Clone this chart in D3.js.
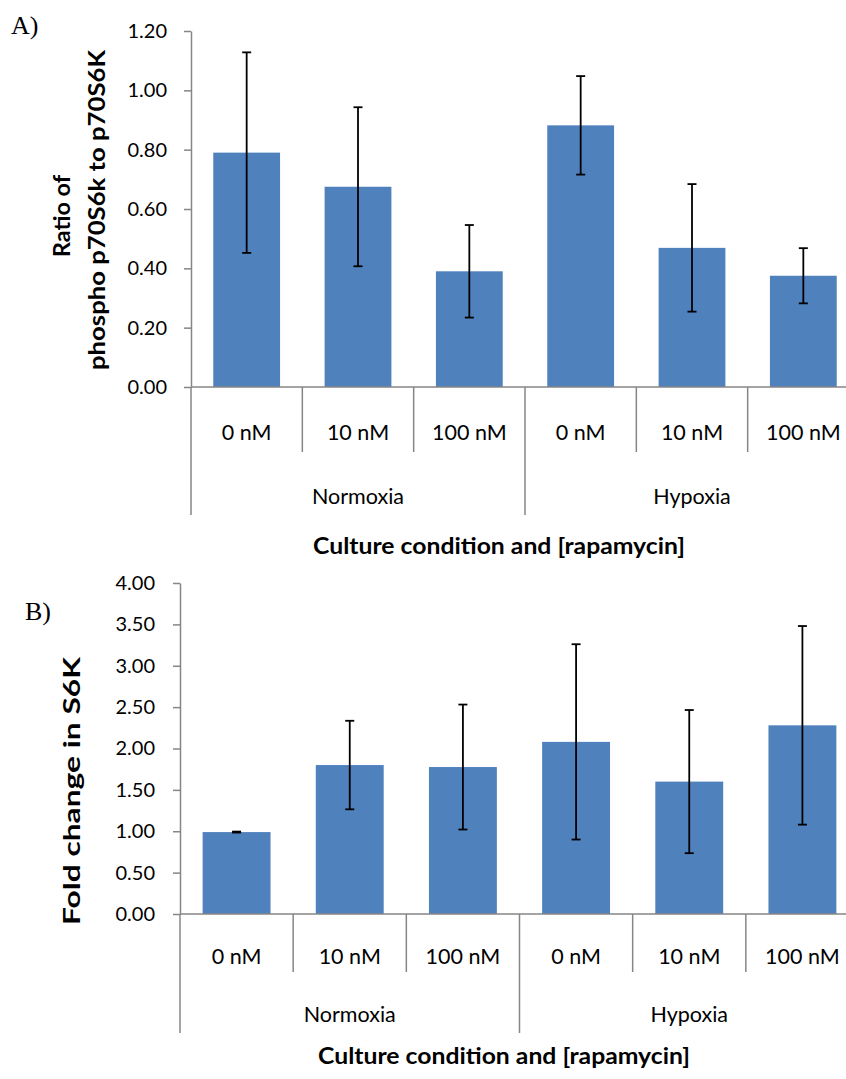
<!DOCTYPE html>
<html>
<head>
<meta charset="utf-8">
<script src="https://cdn.jsdelivr.net/npm/d3@7"></script>
<style>
    body { margin: 0; background: #fff; }
    svg { display: block; font-family: Lato, "Open Sans", sans-serif; }
    .axis path, .axis line { stroke: #868686; stroke-width: 1.5; }
    .axis text { font-size: 20px; fill: #000; font-family: Lato, sans-serif; }
</style>
</head>
<body>
<script>
"use strict";

// categories
var conditions = ["Normoxia", "Hypoxia"];
var doses = ["0 nM", "10 nM", "100 nM"];

// panel A: ratio of phospho p70S6k to p70S6K
var ratioMeans = [0.79, 0.675, 0.39, 0.882, 0.469, 0.375];
var ratioErr = [0.338, 0.268, 0.156, 0.166, 0.215, 0.093];
var ratioTicks = [0, 0.2, 0.4, 0.6, 0.8, 1.0, 1.2];

// panel B: fold change in S6K
var foldMeans = [0.99, 1.80, 1.776, 2.08, 1.60, 2.28];
var foldErr = [0.006, 0.535, 0.755, 1.18, 0.865, 1.2];
var foldTicks = [0, 0.5, 1.0, 1.5, 2.0, 2.5, 3.0, 3.5, 4.0];

var xTitle = "Culture condition and [rapamycin]";

function init() {
    var w = 846;
    var h = 1079;

    var svg = d3.select("body")
        .append("svg")
        .attr("width", w)
        .attr("height", h);

    var categories = [];
    conditions.forEach(function (c) {
        doses.forEach(function (d) {
            categories.push({ cond: c, dose: d, key: c + "|" + d });
        });
    });

    drawPanel(svg, {
        letter: "A)", letterX: 11, letterY: 34,
        means: ratioMeans, err: ratioErr, ticks: ratioTicks,
        x0: 191, x1: 859, top: 31, base: 387,
        labelPad: 17,
        catY: 440, innerEnd: 452, groupY: 504, outerEnd: 515,
        titleY: 554, titleX: 499, titleLen: 372,
        yTitle: [
            { text: "Ratio of", x: 62, y: 216, len: 82 },
            { text: "phospho p70S6k to p70S6K", x: 97, y: 210, len: 320 }
        ]
    }, categories);

    drawPanel(svg, {
        letter: "B)", letterX: 25, letterY: 620,
        means: foldMeans, err: foldErr, ticks: foldTicks,
        x0: 180, x1: 859, top: 583, base: 914,
        labelPad: 18,
        catY: 964, innerEnd: 972, groupY: 1022, outerEnd: 1033,
        titleY: 1064, titleX: 504, titleLen: 372,
        yTitle: [
            { text: "Fold change in S6K", x: 72, y: 791, len: 268 }
        ]
    }, categories);
}

function drawPanel(svg, cfg, categories) {
    var g = svg.append("g");

    var xScale = d3.scaleBand()
        .domain(categories.map(function (d) { return d.key; }))
        .range([cfg.x0, cfg.x1])
        .paddingInner(0.4)
        .paddingOuter(0.2);

    var yScale = d3.scaleLinear()
        .domain([0, d3.max(cfg.ticks)])
        .range([cfg.base, cfg.top]);

    var step = xScale.step();
    var half = (step - xScale.bandwidth()) / 2;

    //Bars
    g.selectAll("rect.bar")
        .data(cfg.means)
        .enter()
        .append("rect")
        .attr("class", "bar")
        .attr("x", function (d, i) { return xScale(categories[i].key); })
        .attr("y", function (d) { return yScale(d); })
        .attr("width", xScale.bandwidth())
        .attr("height", function (d) { return cfg.base - yScale(d); })
        .attr("fill", "#4f81bd");

    //Error bars
    var eb = g.selectAll("g.err")
        .data(cfg.means)
        .enter()
        .append("g")
        .attr("class", "err")
        .attr("stroke", "#000")
        .attr("stroke-width", 1.8);

    function cx(i) { return xScale(categories[i].key) + xScale.bandwidth() / 2; }

    eb.append("line")
        .attr("x1", function (d, i) { return cx(i); })
        .attr("x2", function (d, i) { return cx(i); })
        .attr("y1", function (d, i) { return yScale(d + cfg.err[i]); })
        .attr("y2", function (d, i) { return yScale(d - cfg.err[i]); });
    [1, -1].forEach(function (s) {
        eb.append("line")
            .attr("x1", function (d, i) { return cx(i) - 4.5; })
            .attr("x2", function (d, i) { return cx(i) + 4.5; })
            .attr("y1", function (d, i) { return yScale(d + s * cfg.err[i]); })
            .attr("y2", function (d, i) { return yScale(d + s * cfg.err[i]); });
    });

    //Y axis
    var yAxis = d3.axisLeft(yScale)
        .tickValues(cfg.ticks)
        .tickFormat(d3.format(".2f"))
        .tickSize(7)
        .tickSizeOuter(0)
        .tickPadding(cfg.labelPad);
    g.append("g")
        .attr("class", "axis")
        .attr("transform", "translate(" + cfg.x0 + ",0)")
        .call(yAxis);

    //X axis baseline and category dividers
    var ax = g.append("g").attr("class", "axis");
    ax.append("line")
        .attr("x1", cfg.x0).attr("x2", cfg.x1)
        .attr("y1", cfg.base).attr("y2", cfg.base);

    categories.forEach(function (c, i) {
        var bx = xScale(c.key) - half;
        var outer = (i % doses.length === 0);
        ax.append("line")
            .attr("x1", bx).attr("x2", bx)
            .attr("y1", cfg.base)
            .attr("y2", outer ? cfg.outerEnd : cfg.innerEnd);
    });
    ax.append("line")
        .attr("x1", cfg.x1).attr("x2", cfg.x1)
        .attr("y1", cfg.base).attr("y2", cfg.outerEnd);

    //Category labels
    g.selectAll("text.cat")
        .data(categories)
        .enter()
        .append("text")
        .attr("class", "cat")
        .attr("x", function (d) { return xScale(d.key) + xScale.bandwidth() / 2; })
        .attr("y", cfg.catY)
        .attr("text-anchor", "middle")
        .style("font-size", "21.5px")
        .text(function (d) { return d.dose; });

    //Group labels
    g.selectAll("text.grp")
        .data(conditions)
        .enter()
        .append("text")
        .attr("class", "grp")
        .attr("x", function (d, i) {
            var first = xScale(d + "|" + doses[0]) - half;
            return first + step * doses.length / 2;
        })
        .attr("y", cfg.groupY)
        .attr("text-anchor", "middle")
        .style("font-size", "21.5px")
        .text(function (d) { return d; });

    //X title
    g.append("text")
        .attr("x", cfg.titleX)
        .attr("y", cfg.titleY)
        .attr("text-anchor", "middle")
        .attr("textLength", cfg.titleLen)
        .attr("lengthAdjust", "spacingAndGlyphs")
        .style("font-size", "22px")
        .style("font-weight", "bold")
        .text(xTitle);

    //Y title
    cfg.yTitle.forEach(function (t) {
        g.append("text")
            .attr("transform", "translate(" + (t.x + 8) + "," + t.y + ") rotate(-90)")
            .attr("text-anchor", "middle")
            .attr("textLength", t.len)
            .attr("lengthAdjust", "spacingAndGlyphs")
            .style("font-size", "22px")
            .style("font-weight", "bold")
            .text(t.text);
    });

    //Panel letter
    g.append("text")
        .attr("x", cfg.letterX)
        .attr("y", cfg.letterY)
        .style("font-family", "'Liberation Serif', 'DejaVu Serif', serif")
        .style("font-size", "26px")
        .text(cfg.letter);
}

window.onload = init;
</script>
</body>
</html>
